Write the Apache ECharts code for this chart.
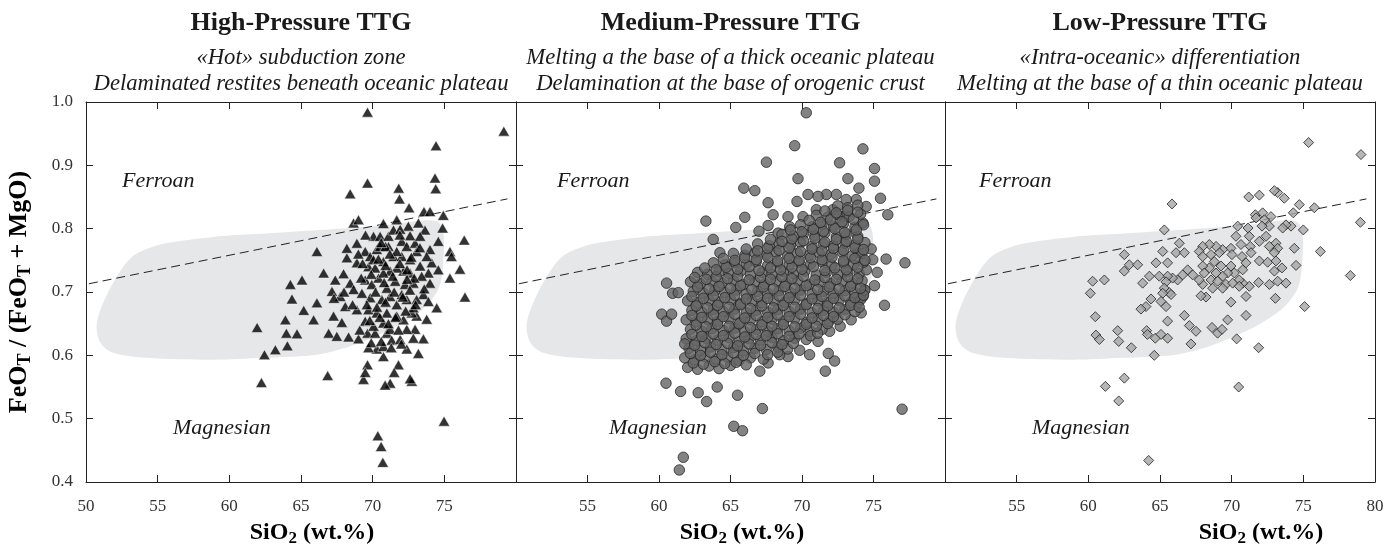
<!DOCTYPE html>
<html><head><meta charset="utf-8">
<script src="https://cdn.jsdelivr.net/npm/echarts/dist/echarts.min.js"></script>
<style>html,body{margin:0;padding:0;background:#fff}#c{width:1387px;height:547px}</style>
</head><body><div id="c"></div>
<script>
const panelTitles = ['High-Pressure TTG', 'Medium-Pressure TTG', 'Low-Pressure TTG'];
const panelSub1 = ['«Hot» subduction zone', 'Melting a the base of a thick oceanic plateau', '«Intra-oceanic» differentiation'];
const panelSub2 = ['Delaminated restites beneath oceanic plateau', 'Delamination at the base of orogenic crust', 'Melting at the base of a thin oceanic plateau'];
const hiddenXLabels = [[80], [50, 80], [50]];
const boundaryLine = [[50.2, 0.713], [79.4, 0.847]];
const fieldOutline = [[50.75,0.650],[51.4,0.693],[52.6,0.740],[53.5,0.760],[55.4,0.776],[58.9,0.787],[61.5,0.791],[65,0.796],[68.4,0.801],[71.5,0.807],[73.5,0.813],[74.6,0.810],[74.95,0.790],[74.9,0.740],[74.6,0.705],[73.6,0.675],[72,0.650],[70,0.628],[68.4,0.614],[66.1,0.601],[62.4,0.596],[58.9,0.593],[54.2,0.596],[51.9,0.604],[51.0,0.620]];

const highP = [[69.64,0.984],[79.15,0.954],[74.42,0.931],[74.35,0.880],[74.40,0.863],[69.64,0.872],[68.43,0.855],[71.82,0.864],[71.87,0.847],[72.54,0.833],[73.58,0.827],[74.0,0.827],[74.93,0.821],[74.88,0.801],[76.39,0.782],[76.44,0.692],[76.09,0.736],[75.39,0.764],[75.5,0.756],[75.39,0.722],[74.58,0.780],[73.65,0.798],[73.19,0.809],[72.49,0.804],[71.68,0.814],[70.75,0.808],[68.67,0.809],[69.01,0.814],[68.2,0.769],[68.9,0.777],[68.2,0.754],[68.9,0.746],[66.11,0.764],[66.58,0.730],[67.97,0.729],[65.07,0.719],[64.26,0.712],[64.37,0.689],[66.11,0.683],[65.19,0.671],[65.88,0.656],[63.91,0.656],[63.98,0.635],[64.72,0.634],[64.05,0.615],[63.21,0.609],[62.45,0.601],[61.94,0.644],[62.24,0.557],[66.86,0.568],[66.93,0.635],[67.27,0.662],[67.85,0.652],[67.5,0.630],[68.32,0.629],[69.01,0.626],[67.39,0.719],[67.16,0.701],[67.74,0.693],[68.43,0.714],[68.67,0.704],[68.09,0.677],[68.9,0.672],[69.71,0.740],[69.48,0.764],[69.83,0.756],[70.29,0.767],[70.06,0.788],[70.52,0.788],[71.1,0.788],[71.45,0.798],[72.03,0.780],[72.38,0.772],[72.96,0.777],[73.07,0.764],[74.0,0.767],[74.12,0.746],[73.77,0.756],[74.58,0.735],[73.89,0.730],[74.0,0.714],[73.54,0.696],[73.89,0.685],[74.47,0.675],[73.77,0.657],[73.07,0.662],[72.73,0.667],[72.96,0.641],[73.54,0.626],[73.19,0.603],[72.38,0.610],[72.73,0.559],[72.61,0.563],[71.8,0.585],[71.5,0.573],[71.22,0.556],[70.87,0.553],[70.75,0.598],[70.29,0.610],[69.71,0.612],[69.64,0.585],[69.36,0.562],[69.48,0.573],[74.98,0.496],[70.36,0.473],[70.59,0.456],[70.71,0.431],[69.64,0.635],[70.17,0.635],[70.99,0.635],[71.33,0.624],[71.92,0.625],[72.38,0.641],[72.84,0.627],[72.15,0.656],[71.22,0.641],[70.75,0.651],[70.06,0.646],[69.48,0.654],[69.71,0.672],[70.29,0.667],[70.99,0.667],[71.68,0.680],[72.38,0.688],[72.03,0.696],[71.22,0.693],[70.64,0.688],[69.83,0.691],[69.25,0.698],[69.48,0.719],[69.94,0.712],[70.41,0.722],[70.99,0.706],[71.57,0.717],[72.26,0.712],[72.84,0.714],[72.61,0.730],[72.15,0.733],[71.68,0.738],[71.22,0.733],[70.75,0.730],[70.17,0.738],[70.06,0.751],[70.75,0.748],[71.45,0.756],[72.03,0.756],[72.61,0.751],[73.31,0.741],[73.42,0.725],[73.07,0.688],[72.84,0.675],[71.68,0.662],[71.68,0.764],[71.1,0.772],[70.52,0.772],[72.61,0.789],[73.31,0.788],[71.92,0.799],[70.75,0.614],
[69.3,0.745],[69.9,0.728],[70.4,0.752],[70.9,0.742],[71.4,0.725],[71.9,0.745],[72.4,0.735],[72.9,0.722],[70.2,0.700],[70.8,0.715],[71.5,0.700],[72.1,0.692],[72.6,0.703],[69.6,0.680],[70.3,0.676],[70.9,0.684],[71.6,0.660],[72.3,0.670],[69.8,0.655],[70.5,0.660],[71.1,0.650],[71.8,0.640],[69.1,0.640],[69.9,0.620],[70.6,0.622],[71.3,0.612],[72.0,0.618],[69.2,0.722],[69.0,0.760],[69.5,0.790],[70.9,0.772],[71.9,0.790],[72.7,0.755],[73.3,0.770],[71.2,0.760],[70.6,0.778],[72.4,0.720],[73.6,0.705],[73.0,0.680],[68.6,0.680],[68.0,0.700],[67.3,0.690]];

const mediumP = [[70.30,0.983],[69.49,0.931],[74.26,0.926],[67.51,0.905],[72.63,0.904],[69.72,0.879],[75.07,0.895],[75.07,0.875],[73.21,0.879],[73.98,0.864],[75.49,0.848],[76.0,0.822],[75.88,0.752],[75.26,0.731],[75.07,0.710],[75.77,0.679],[77.0,0.515],[77.2,0.746],[65.93,0.864],[66.7,0.860],[63.28,0.812],[66.0,0.818],[65.37,0.802],[63.79,0.783],[64.26,0.762],[60.53,0.714],[60.95,0.698],[61.35,0.699],[60.19,0.665],[60.53,0.654],[60.88,0.665],[60.49,0.556],[61.51,0.543],[62.74,0.541],[63.33,0.527],[64.07,0.550],[65.49,0.537],[67.23,0.516],[65.23,0.488],[65.84,0.481],[61.7,0.439],[61.42,0.419],[67.05,0.575],[67.63,0.588],[71.63,0.575],[72.28,0.591],[71.84,0.603],[70.53,0.601],[69.84,0.608],[69.02,0.598],[68.44,0.601],[71.12,0.622],[71.93,0.638],[72.67,0.646],[73.44,0.656],[74.14,0.667],[74.26,0.693],[74.37,0.703],[73.91,0.683],[74.95,0.751],[74.84,0.768],[73.91,0.762],[74.26,0.809],[74.49,0.835],[73.79,0.846],[73.09,0.846],[72.4,0.854],[71.7,0.854],[71.12,0.851],[70.42,0.854],[69.65,0.843],[67.63,0.841],[67.98,0.822],[69.02,0.819],[67.63,0.805],[66.99,0.796],[69.14,0.803],[68.33,0.793],[70.07,0.819],[71.0,0.830],[72.16,0.830],[72.86,0.819],
[62.0,0.581],[62.7,0.578],[63.5,0.583],[64.2,0.579],[65.0,0.584],
[61.8,0.596],[62.5,0.593],[63.2,0.598],[64.0,0.594],[64.8,0.597],[65.6,0.592],[66.4,0.596],[67.3,0.594],
[62.1,0.611],[62.9,0.608],[63.6,0.613],[64.4,0.609],[65.2,0.612],[65.9,0.607],[66.7,0.611],[67.5,0.609],[68.3,0.613],[69.0,0.610],
[61.9,0.626],[62.6,0.623],[63.3,0.627],[64.1,0.624],[64.9,0.628],[65.6,0.622],[66.3,0.626],[67.1,0.624],[67.9,0.628],[68.7,0.623],[69.5,0.627],[70.3,0.625],
[62.2,0.641],[63.0,0.638],[63.7,0.642],[64.5,0.639],[65.3,0.643],[66.0,0.637],[66.8,0.641],[67.6,0.638],[68.3,0.642],[69.1,0.639],[69.9,0.643],[70.6,0.638],[71.4,0.641],
[61.9,0.656],[62.6,0.653],[63.4,0.657],[64.1,0.654],[64.9,0.658],[65.7,0.652],[66.4,0.656],[67.2,0.653],[67.9,0.657],[68.7,0.654],[69.5,0.658],[70.3,0.652],[71.1,0.656],[71.9,0.654],[72.5,0.657],
[62.3,0.671],[63.0,0.668],[63.8,0.672],[64.5,0.669],[65.3,0.673],[66.1,0.667],[66.8,0.671],[67.6,0.668],[68.3,0.672],[69.1,0.669],[69.9,0.673],[70.7,0.667],[71.5,0.671],[72.2,0.668],[73.0,0.672],[73.7,0.669],
[62.0,0.686],[62.7,0.683],[63.5,0.687],[64.2,0.684],[65.0,0.688],[65.7,0.682],[66.5,0.686],[67.2,0.683],[68.0,0.687],[68.8,0.684],[69.5,0.688],[70.3,0.682],[71.1,0.686],[71.8,0.683],[72.6,0.687],[73.4,0.684],[74.1,0.688],
[62.4,0.701],[63.1,0.698],[63.9,0.702],[64.6,0.699],[65.4,0.703],[66.1,0.697],[66.9,0.701],[67.6,0.698],[68.4,0.702],[69.2,0.699],[69.9,0.703],[70.7,0.697],[71.5,0.701],[72.2,0.698],[73.0,0.702],[73.7,0.699],[74.4,0.703],
[62.2,0.716],[62.9,0.713],[63.7,0.717],[64.4,0.714],[65.2,0.718],[65.9,0.712],[66.7,0.716],[67.4,0.713],[68.2,0.717],[68.9,0.714],[69.7,0.718],[70.5,0.712],[71.2,0.716],[72.0,0.713],[72.8,0.717],[73.5,0.714],[74.2,0.718],
[62.7,0.731],[63.4,0.728],[64.2,0.732],[64.9,0.729],[65.7,0.733],[66.4,0.727],[67.2,0.731],[67.9,0.728],[68.7,0.732],[69.4,0.729],[70.2,0.733],[71.0,0.727],[71.7,0.731],[72.5,0.728],[73.2,0.732],[74.0,0.729],[74.5,0.735],
[63.8,0.746],[64.6,0.743],[65.3,0.747],[66.1,0.744],[66.8,0.748],[67.6,0.742],[68.3,0.746],[69.1,0.743],[69.8,0.747],[70.6,0.744],[71.4,0.748],[72.1,0.742],[72.9,0.746],[73.6,0.743],[74.3,0.747],
[65.2,0.761],[66.0,0.758],[66.7,0.762],[67.5,0.759],[68.2,0.763],[69.0,0.757],[69.7,0.761],[70.5,0.758],[71.2,0.762],[72.0,0.759],[72.8,0.763],[73.5,0.757],[74.2,0.761],
[66.9,0.776],[67.7,0.773],[68.4,0.777],[69.2,0.774],[69.9,0.778],[70.7,0.772],[71.5,0.776],[72.2,0.773],[73.0,0.777],[73.7,0.774],[74.4,0.778],
[68.6,0.791],[69.4,0.788],[70.1,0.792],[70.9,0.789],[71.6,0.793],[72.4,0.787],[73.1,0.791],[73.9,0.788],
[69.9,0.806],[70.7,0.803],[71.4,0.807],[72.2,0.804],[72.9,0.808],[73.7,0.802],[74.3,0.806],
[71.0,0.821],[71.8,0.818],[72.5,0.822],[73.3,0.819],[74.1,0.823],
[72.5,0.836],[73.2,0.833],[73.9,0.837],
[62.4,0.588],[63.1,0.586],[63.9,0.590],[64.6,0.587],[65.4,0.589],[66.1,0.585],
[62.2,0.603],[62.9,0.600],[63.6,0.605],[64.4,0.601],[65.2,0.604],[65.9,0.600],[66.7,0.603],[67.6,0.601],[68.3,0.605],
[61.8,0.618],[62.5,0.616],[63.2,0.620],[64.0,0.617],[64.8,0.619],[65.5,0.615],[66.3,0.618],[67.1,0.616],[67.9,0.620],[68.6,0.617],[69.4,0.619],
[62.3,0.633],[63.0,0.630],[63.8,0.634],[64.5,0.631],[65.3,0.635],[66.0,0.629],[66.8,0.633],[67.5,0.631],[68.3,0.634],[69.1,0.630],[69.8,0.634],[70.6,0.631],[71.1,0.635],
[62.6,0.648],[63.3,0.645],[64.1,0.649],[64.9,0.646],[65.6,0.650],[66.4,0.644],[67.2,0.648],[67.9,0.646],[68.7,0.649],[69.5,0.645],[70.3,0.649],[71.0,0.646],[71.8,0.650],
[62.3,0.663],[63.0,0.660],[63.8,0.664],[64.5,0.661],[65.3,0.665],[66.0,0.659],[66.8,0.663],[67.6,0.660],[68.3,0.664],[69.1,0.661],[69.9,0.665],[70.7,0.659],[71.5,0.663],[72.2,0.661],[73.0,0.664],
[62.6,0.678],[63.4,0.675],[64.1,0.679],[64.9,0.676],[65.7,0.680],[66.4,0.674],[67.2,0.678],[68.0,0.675],[68.7,0.679],[69.5,0.676],[70.3,0.680],[71.1,0.674],[71.8,0.678],[72.6,0.675],[73.4,0.679],[74.0,0.676],
[62.3,0.693],[63.1,0.690],[63.8,0.694],[64.6,0.691],[65.3,0.695],[66.1,0.689],[66.9,0.693],[67.6,0.690],[68.4,0.694],[69.1,0.691],[69.9,0.695],[70.7,0.689],[71.4,0.693],[72.2,0.690],[73.0,0.694],[73.7,0.691],[74.3,0.695],
[62.7,0.708],[63.5,0.705],[64.2,0.709],[65.0,0.706],[65.7,0.710],[66.5,0.704],[67.3,0.708],[68.0,0.705],[68.8,0.709],[69.5,0.706],[70.3,0.710],[71.1,0.704],[71.9,0.708],[72.6,0.705],[73.4,0.709],[74.1,0.706],
[62.5,0.723],[63.3,0.720],[64.0,0.724],[64.8,0.721],[65.5,0.725],[66.3,0.719],[67.1,0.723],[67.8,0.720],[68.6,0.724],[69.3,0.721],[70.1,0.725],[70.9,0.719],[71.6,0.723],[72.4,0.720],[73.2,0.724],[73.9,0.721],
[63.2,0.738],[64.0,0.735],[64.7,0.739],[65.5,0.736],[66.3,0.740],[67.0,0.734],[67.8,0.738],[68.5,0.735],[69.3,0.739],[70.0,0.736],[70.8,0.740],[71.6,0.734],[72.3,0.738],[73.1,0.735],[73.9,0.739],
[64.5,0.753],[65.3,0.750],[66.0,0.754],[66.8,0.751],[67.6,0.755],[68.3,0.749],[69.1,0.753],[69.8,0.750],[70.6,0.754],[71.4,0.751],[72.1,0.755],[72.9,0.749],[73.7,0.753],[74.4,0.750],
[66.1,0.768],[66.9,0.765],[67.6,0.769],[68.4,0.766],[69.1,0.770],[69.9,0.764],[70.7,0.768],[71.4,0.765],[72.2,0.769],[72.9,0.766],[73.7,0.770],[74.3,0.767],
[67.8,0.783],[68.6,0.780],[69.3,0.784],[70.1,0.781],[70.9,0.785],[71.6,0.779],[72.4,0.783],[73.1,0.780],[73.9,0.784],
[69.2,0.798],[70.0,0.795],[70.8,0.799],[71.5,0.796],[72.3,0.800],[73.0,0.794],[73.8,0.798],
[70.5,0.813],[71.3,0.810],[72.0,0.814],[72.8,0.811],[73.6,0.815],
[71.6,0.828],[72.4,0.825],[73.2,0.829],[73.9,0.826]];

const lowP = [[75.37,0.936],[79.02,0.917],[78.98,0.810],[78.28,0.726],[76.19,0.764],[75.09,0.677],[74.49,0.742],[74.37,0.769],[75.0,0.798],[75.77,0.833],[74.72,0.838],[74.3,0.825],[74.14,0.804],[73.67,0.848],[73.21,0.857],[72.98,0.860],[71.93,0.853],[71.19,0.850],[71.65,0.822],[72.16,0.825],[72.74,0.819],[72.28,0.814],[71.7,0.817],[73.79,0.806],[73.56,0.801],[72.63,0.804],[72.12,0.804],[71.14,0.801],[70.42,0.804],[70.3,0.788],[71.23,0.788],[72.4,0.788],[71.93,0.780],[73.09,0.777],[73.21,0.769],[72.98,0.762],[72.63,0.772],[71.3,0.772],[70.65,0.775],[69.95,0.769],[70.02,0.759],[70.72,0.756],[71.35,0.762],[71.93,0.749],[72.51,0.747],[73.09,0.749],[73.51,0.738],[72.98,0.733],[73.79,0.714],[73.21,0.717],[72.63,0.712],[71.88,0.715],[71.23,0.709],[70.77,0.714],[70.53,0.719],[70.19,0.730],[69.95,0.741],[70.77,0.735],[71.0,0.746],[69.37,0.767],[69.14,0.762],[68.91,0.772],[68.44,0.775],[67.98,0.772],[67.74,0.764],[67.98,0.756],[68.56,0.759],[68.79,0.748],[69.26,0.741],[69.72,0.730],[69.37,0.725],[68.91,0.730],[68.44,0.738],[67.98,0.741],[68.09,0.730],[68.56,0.719],[69.02,0.717],[69.6,0.712],[70.07,0.714],[70.53,0.709],[69.37,0.706],[68.67,0.706],[67.98,0.712],[67.74,0.719],[67.28,0.727],[66.93,0.735],[66.58,0.727],[66.23,0.719],[65.88,0.722],[65.53,0.725],[64.95,0.725],[65.42,0.716],[65.3,0.706],[65.65,0.699],[65.77,0.696],[65.19,0.698],[65.07,0.685],[65.42,0.677],[64.37,0.689],[64.02,0.677],[63.67,0.673],[63.79,0.714],[64.26,0.725],[64.72,0.746],[65.53,0.746],[65.19,0.764],[66.35,0.777],[66.12,0.762],[66.7,0.762],[65.3,0.798],[65.84,0.839],[62.51,0.759],[62.86,0.743],[63.44,0.743],[62.51,0.733],[61.12,0.719],[60.3,0.717],[60.14,0.698],[60.49,0.661],[60.53,0.632],[60.77,0.625],[62.05,0.639],[62.12,0.622],[63.0,0.612],[64.07,0.639],[64.12,0.633],[64.67,0.627],[65.07,0.633],[65.53,0.627],[64.6,0.600],[65.53,0.654],[66.7,0.663],[67.05,0.647],[67.51,0.638],[67.16,0.618],[68.63,0.644],[69.02,0.635],[69.33,0.641],[69.72,0.656],[70.35,0.626],[71.0,0.663],[71.88,0.612],[69.95,0.684],[71.0,0.693],[73.05,0.690],[61.19,0.551],[62.51,0.564],[62.12,0.528],[70.49,0.550],[64.21,0.434],[68.21,0.692],[67.86,0.694]];

const SERIF = '"Liberation Serif","Times New Roman",Times,serif';
const grids = [{left:86,width:430},{left:516,width:429},{left:945,width:430}];
const centers = grids.map(g => g.left + g.width / 2);
const chart = echarts.init(document.getElementById('c'), null, {renderer:'canvas'});

const axisLine = {show:true, onZero:false, lineStyle:{color:'#222', width:1}};
const tick = {show:true, inside:true, length:7, lineStyle:{color:'#222', width:1}};
const xAxes = [], yAxes = [];
for (let i = 0; i < 3; i++) {
  xAxes.push({gridIndex:i, type:'value', min:50, max:80, interval:5, position:'bottom', axisLine, axisTick:tick, splitLine:{show:false},
    axisLabel:{margin:16, fontFamily:SERIF, fontSize:17, color:'#333', showMinLabel:true, showMaxLabel:true,
      formatter: v => hiddenXLabels[i].includes(v) ? '' : String(v)}});
}
for (let i = 0; i < 3; i++) {
  xAxes.push({gridIndex:i, type:'value', min:50, max:80, interval:5, position:'top', axisLine, axisTick:tick, splitLine:{show:false}, axisLabel:{show:false}});
}
for (let i = 0; i < 3; i++) {
  yAxes.push({gridIndex:i, type:'value', min:0.4, max:1.0, interval:0.1, position:'left', axisLine, axisTick:tick, splitLine:{show:false},
    axisLabel:{show:i === 0, margin:13, fontFamily:SERIF, fontSize:17, color:'#333', formatter: v => v.toFixed(1)}});
}
for (let i = 0; i < 3; i++) {
  yAxes.push({gridIndex:i, type:'value', min:0.4, max:1.0, interval:0.1, position:'right', axisLine, axisTick:tick, splitLine:{show:false}, axisLabel:{show:false}});
}

const pointSets = [highP, mediumP, lowP];
const pointStyles = [
  {symbol:'triangle', symbolSize:[11.5,10], itemStyle:{color:'#000000', borderColor:'#ffffff', borderWidth:0.6}},
  {symbol:'circle', symbolSize:10.5, itemStyle:{color:'#646464', borderColor:'#1c1c1c', borderWidth:0.9}},
  {symbol:'diamond', symbolSize:10, itemStyle:{color:'#a5a5a5', borderColor:'#222222', borderWidth:1}}
];
const series = [];
for (let i = 0; i < 3; i++) {
  series.push({type:'custom', xAxisIndex:i, yAxisIndex:i, silent:true, z:1, data:[[60,0.7]],
    renderItem:(params, api) => ({type:'polygon', shape:{points: fieldOutline.map(p => api.coord(p)), smooth:0.3}, style:{fill:'#e6e7e9'}})});
  series.push({type:'line', xAxisIndex:i, yAxisIndex:i, silent:true, z:2, data:boundaryLine, symbol:'none',
    lineStyle:{color:'#222', width:1, type:[9,5]}});
  series.push(Object.assign({type:'scatter', xAxisIndex:i, yAxisIndex:i, z:3, silent:true, data:pointSets[i]}, pointStyles[i]));
}

const graphic = [];
function txt(x, y, text, font) {
  return {type:'text', x, y, silent:true, style:{text, font, fill:'#1a1a1a', align:'center', verticalAlign:'middle', textAlign:'center', textVerticalAlign:'middle'}};
}
for (let i = 0; i < 3; i++) {
  graphic.push(txt(centers[i], 23, panelTitles[i], 'bold 26px ' + SERIF));
  graphic.push(txt(centers[i], 58, panelSub1[i], 'italic 22.7px ' + SERIF));
  graphic.push(txt(centers[i], 84, panelSub2[i], 'italic 22.7px ' + SERIF));
}
const ferroanX = [122, 557, 979];
const magnesianX = [173, 609, 1032];
for (let i = 0; i < 3; i++) {
  graphic.push({type:'text', x:ferroanX[i], y:181, silent:true, style:{text:'Ferroan', font:'italic 22px ' + SERIF, fill:'#1a1a1a', align:'left', verticalAlign:'middle', textAlign:'left', textVerticalAlign:'middle'}});
  graphic.push({type:'text', x:magnesianX[i], y:428, silent:true, style:{text:'Magnesian', font:'italic 22px ' + SERIF, fill:'#1a1a1a', align:'left', verticalAlign:'middle', textAlign:'left', textVerticalAlign:'middle'}});
}
const richX = {
  b:{fontFamily:SERIF, fontWeight:'bold', fontSize:24, color:'#1a1a1a', lineHeight:28},
  s:{fontFamily:SERIF, fontWeight:'bold', fontSize:17, color:'#1a1a1a', lineHeight:18, verticalAlign:'bottom', padding:[7,0,0,0]}
};
const richY = {
  b:{fontFamily:SERIF, fontWeight:'bold', fontSize:26, color:'#1a1a1a', lineHeight:30},
  s:{fontFamily:SERIF, fontWeight:'bold', fontSize:18, color:'#1a1a1a', lineHeight:19, verticalAlign:'bottom', padding:[8,0,0,0]}
};
const xTitleX = [312, 742, 1261];
for (let i = 0; i < 3; i++) {
  graphic.push({type:'text', x:xTitleX[i], y:533, silent:true, style:{text:'{b|SiO}{s|2}{b| (wt.%)}', rich:richX, align:'center', verticalAlign:'middle', textAlign:'center', textVerticalAlign:'middle'}});
}
graphic.push({type:'text', x:19, y:292, rotation:Math.PI/2, silent:true, style:{text:'{b|FeO}{s|T}{b| / (FeO}{s|T}{b| + MgO)}', rich:richY, align:'center', verticalAlign:'middle', textAlign:'center', textVerticalAlign:'middle'}});

chart.setOption({
  animation:false,
  backgroundColor:'#ffffff',
  grid: grids.map(g => ({left:g.left, width:g.width, top:102, height:380, containLabel:false})),
  xAxis: xAxes,
  yAxis: yAxes,
  series,
  graphic
});
</script>
</body></html>
